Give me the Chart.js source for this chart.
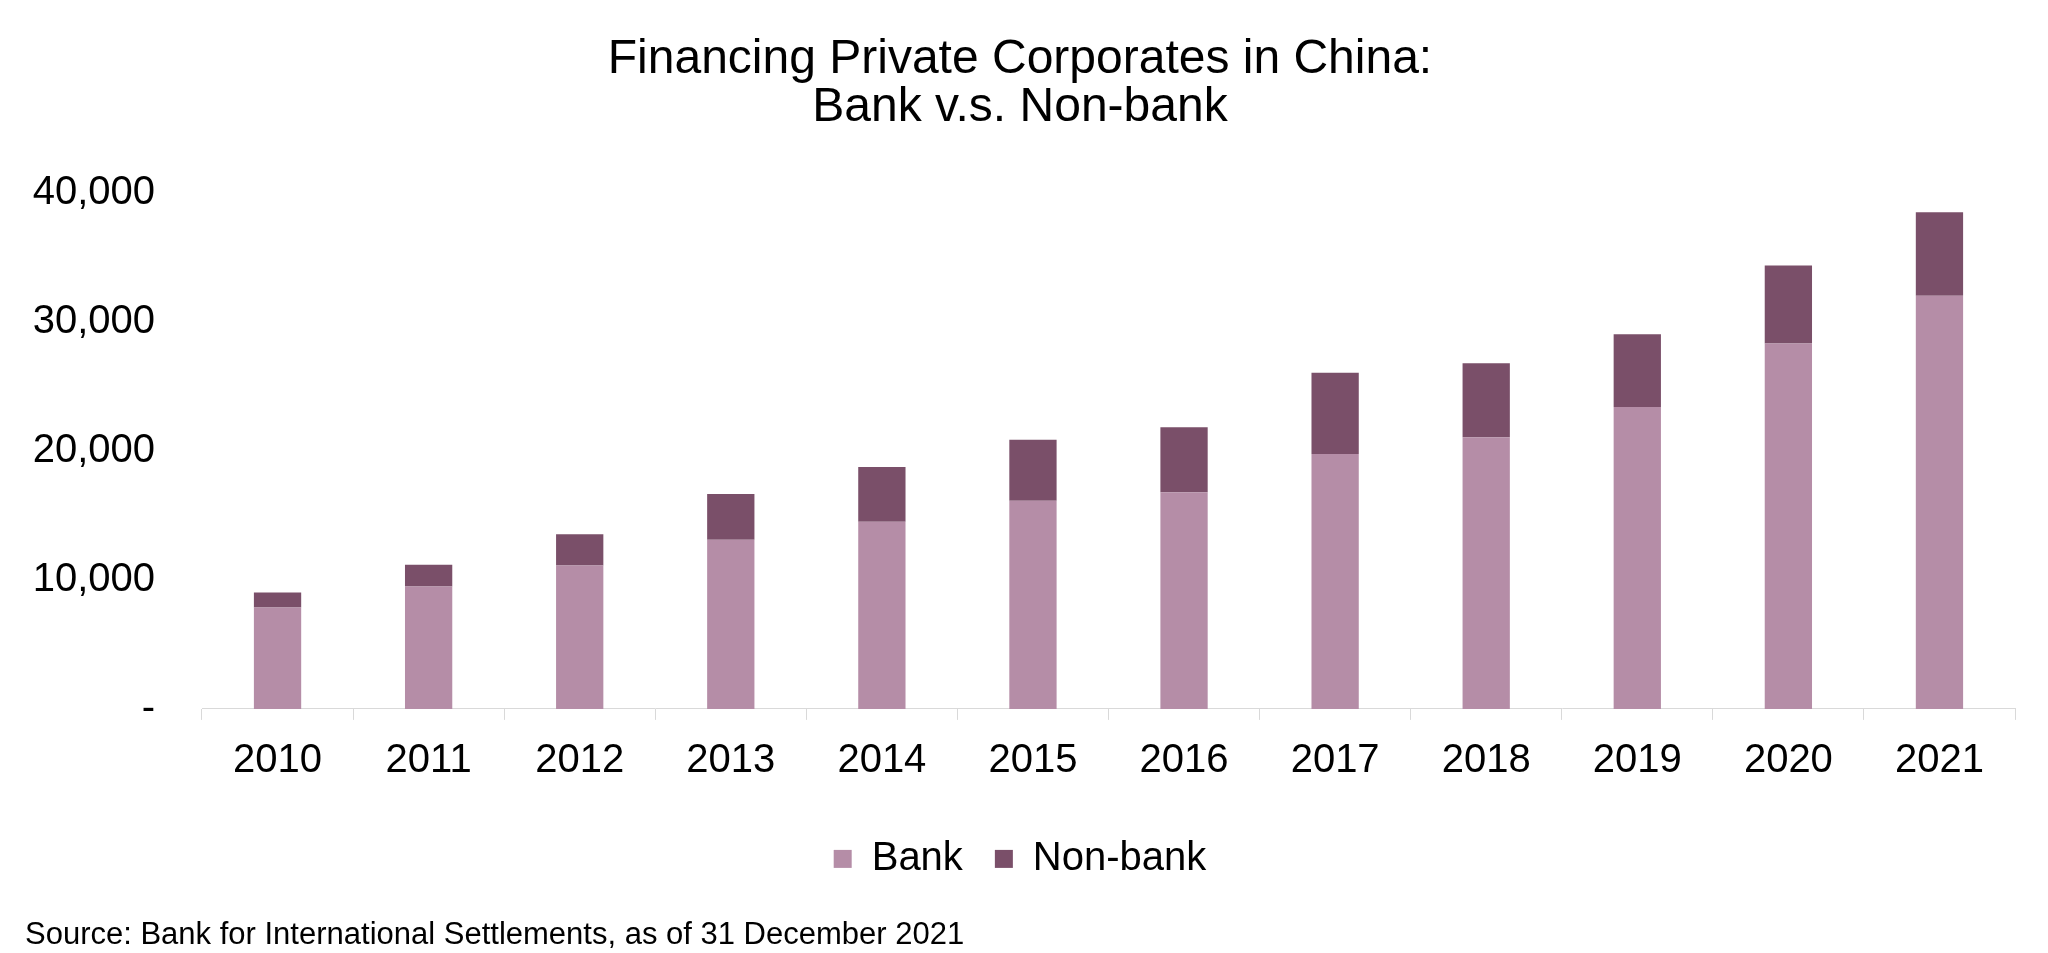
<!DOCTYPE html>
<html>
<head>
<meta charset="utf-8">
<script src="https://cdn.jsdelivr.net/npm/chart.js@4"></script>
<style>
  html, body { margin: 0; padding: 0; background: #fff; }
  #wrap { width: 2048px; height: 953px; }
</style>
</head>
<body>
<div id="wrap"><canvas id="grafico" width="2048" height="953"></canvas></div>
<script>
// dados
const years = ['2010', '2011', '2012', '2013', '2014', '2015', '2016', '2017', '2018', '2019', '2020', '2021'];
const bank = [7860, 9490, 11110, 13120, 14510, 16140, 16790, 19770, 21070, 23400, 28340, 32040];
const nonBank = [1160, 1680, 2430, 3550, 4250, 4730, 5050, 6300, 5730, 5650, 6030, 6470];
const yTicks = [0, 10000, 20000, 30000, 40000];

const fonte = 'Liberation Sans, Arial, sans-serif';

const ctx = document.getElementById('grafico').getContext('2d');

new Chart(ctx, {
  type: 'bar',
  data: {
    labels: years,
    datasets: [
      {
        label: 'Bank',
        data: bank,
        backgroundColor: '#B58DA7',
        borderWidth: 0
      },
      {
        label: 'Non-bank',
        data: nonBank,
        backgroundColor: '#7A4F69',
        borderWidth: 0
      }
    ]
  },
  options: {
    responsive: false,
    animation: false,
    categoryPercentage: 1,
    barPercentage: 0.313,
    layout: {
      padding: { left: 25, right: 33, top: 0, bottom: 0 }
    },
    scales: {
      x: {
        stacked: true,
        offset: true,
        grid: {
          display: true,
          offset: true,
          drawOnChartArea: false,
          drawTicks: true,
          tickLength: 11,
          color: '#D9D9D9'
        },
        border: { display: true, color: '#D9D9D9', width: 1 },
        ticks: {
          color: '#000',
          font: { family: fonte, size: 40 },
          padding: 17,
          autoSkip: false,
          maxRotation: 0
        },
        afterFit: (axis) => { axis.height = 98; }
      },
      y: {
        stacked: true,
        min: 0,
        max: 40000,
        grid: { display: false, drawTicks: false },
        border: { display: false },
        afterBuildTicks: (axis) => { axis.ticks = yTicks.map(v => ({ value: v })); },
        ticks: {
          color: '#000',
          font: { family: fonte, size: 40 },
          padding: 47,
          callback: (v) => v === 0 ? '-' : Number(v).toLocaleString('en-US')
        },
        afterFit: (axis) => { axis.width = 177; }
      }
    },
    plugins: {
      title: {
        display: true,
        text: ['Financing Private Corporates in China:', 'Bank v.s. Non-bank'],
        color: '#000',
        font: { family: fonte, size: 48, weight: 'normal', lineHeight: 1.0 },
        padding: { top: 36, bottom: 61 }
      },
      legend: {
        display: true,
        position: 'bottom',
        align: 'center',
        labels: {
          color: '#000',
          font: { family: fonte, size: 40 },
          boxWidth: 18,
          boxHeight: 18,
          padding: 32
        }
      },
      subtitle: {
        display: true,
        position: 'bottom',
        align: 'start',
        text: 'Source: Bank for International Settlements, as of 31 December 2021',
        color: '#000',
        font: { family: fonte, size: 31, weight: 'normal', lineHeight: 1.1 },
        padding: { top: 30, bottom: 0 }
      },
      tooltip: { enabled: false }
    }
  }
});
</script>
</body>
</html>
